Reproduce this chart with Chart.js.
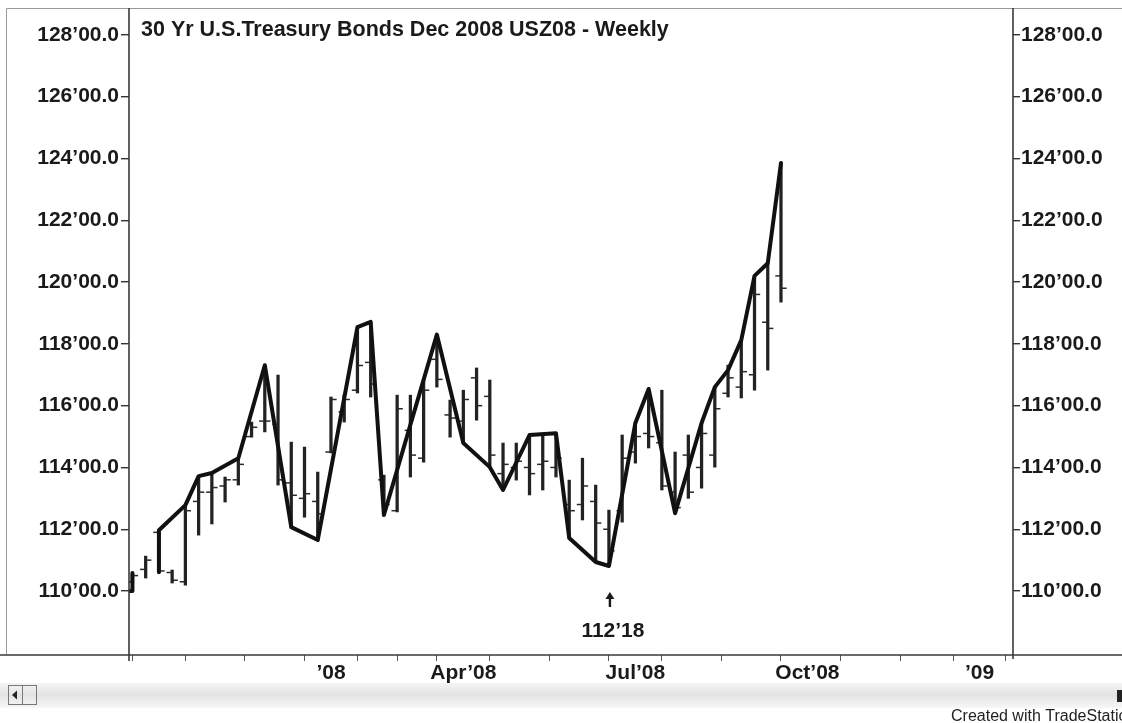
<!DOCTYPE html>
<html>
<head>
<meta charset="utf-8">
<script src="https://cdn.jsdelivr.net/npm/chart.js@4"></script>
<style>
  html, body { margin: 0; padding: 0; background: #fff; }
  #wrap { width: 1122px; height: 723px; position: relative; }
</style>
</head>
<body>
<div id="wrap"><canvas id="bondChart"></canvas></div>
<script>
// === DATA ===
const chartTitle = "30 Yr U.S.Treasury Bonds Dec 2008 USZ08 - Weekly";

const barHigh = [110.58, 111.13, 111.97, 110.68, 112.78, 113.72, 113.82, 113.69, 114.30, 115.47,
  117.31, 116.99, 114.82, 114.66, 113.85, 116.28, 116.34, 118.54, 118.71, 113.75,
  116.34, 116.34, 116.83, 118.30, 116.18, 116.50, 117.22, 116.83, 114.79, 114.79,
  115.05, 115.11, 115.11, 113.59, 114.30, 113.43, 112.62, 115.05, 115.44, 116.54,
  116.50, 114.50, 115.05, 115.44, 116.60, 117.31, 118.12, 120.20, 120.61, 123.85];
const barLow = [110.26, 110.42, 110.61, 110.26, 110.19, 111.81, 112.17, 112.88, 113.43, 114.98,
  115.15, 113.43, 112.07, 112.39, 111.65, 114.47, 115.47, 116.41, 116.28, 112.46,
  112.56, 113.69, 114.17, 116.60, 114.98, 114.79, 115.53, 114.01, 113.27, 113.59,
  113.11, 113.27, 113.69, 111.72, 112.30, 110.94, 110.81, 112.23, 114.14, 114.63,
  113.27, 112.52, 113.00, 113.33, 114.01, 116.28, 116.25, 116.50, 117.15, 119.35];
const barOpen = [110.30, 110.70, 111.90, 110.60, 110.30, 112.90, 113.20, 113.40, 113.60, 115.00,
  115.50, 115.40, 113.50, 113.00, 112.90, 114.50, 115.80, 116.50, 117.40, 113.60,
  112.60, 115.20, 114.30, 117.50, 115.70, 115.50, 116.90, 116.30, 113.80, 114.00,
  114.00, 114.10, 114.00, 112.80, 112.80, 112.90, 112.00, 112.60, 114.50, 115.10,
  114.80, 113.20, 114.40, 114.00, 114.40, 116.40, 116.60, 117.00, 118.70, 120.20];
const barClose = [110.50, 111.00, 110.65, 110.35, 112.60, 113.20, 113.35, 113.60, 114.10, 115.30,
  115.50, 113.60, 113.10, 113.15, 112.50, 116.20, 116.20, 117.30, 116.70, 112.80,
  115.90, 114.40, 116.50, 116.85, 115.60, 116.20, 116.00, 114.40, 114.10, 114.20,
  113.80, 114.20, 114.30, 112.60, 113.40, 112.20, 111.30, 114.30, 115.00, 115.00,
  113.40, 112.70, 113.20, 115.10, 115.90, 116.90, 117.10, 119.60, 118.50, 119.80];

// swing line (week index, price); null = break in the line
const swingWeek = [-0.26, 0, 0, 1, 2, 2, 4, 5, 6, 8, 10, 12, 14, 17, 18, 19, 23, 25, 27, 28,
  30, 32, 33, 35, 36, 38, 39, 41, 43, 44, 45, 46, 47, 48, 49];
const swingPrice = [110.0, 110.0, 110.58, null, 110.61, 111.97, 112.78, 113.72, 113.82, 114.30,
  117.31, 112.07, 111.65, 118.54, 118.71, 112.46, 118.30, 114.79, 114.01, 113.27,
  115.05, 115.11, 111.72, 110.94, 110.81, 115.44, 116.54, 112.52, 115.44, 116.60,
  117.15, 118.12, 120.20, 120.61, 123.85];

const priceTicks = [110, 112, 114, 116, 118, 120, 122, 124, 126, 128];
const dateTickWeeks = [2, 6, 11, 15, 19, 21, 25, 29, 34, 38, 42, 47, 51, 56, 60, 64];
const dateTickLabels = ["", "", "", "\u201908", "", "", "Apr\u201908", "", "", "Jul\u201908", "", "", "Oct\u201908", "", "", "\u201909"];

const lowMarkWeek = 36;
const lowMarkText = "112\u201918";
const creditText = "Created with TradeStation";

// === CHART ===
const ink = "#1a1a1a";
const FONT = "'Liberation Sans', Arial, sans-serif";
const weeks = barHigh.map((_, i) => i);
const tickOffset = 0.24;

const framePlugin = {
  id: "frame",
  beforeDraw(chart) {
    const c = chart.ctx;
    c.save();
    c.fillStyle = "#fff";
    c.fillRect(0, 0, chart.width, chart.height);

    // scrollbar strip (under the axis labels)
    const g = c.createLinearGradient(0, 682, 0, 708);
    g.addColorStop(0, "#f6f6f6");
    g.addColorStop(0.5, "#e3e3e3");
    g.addColorStop(1, "#f7f7f7");
    c.fillStyle = g;
    c.fillRect(0, 683, chart.width, 25);
    c.strokeStyle = "#777";
    c.lineWidth = 1;
    c.strokeRect(8.5, 685.5, 28, 19);
    c.beginPath(); c.moveTo(22.5, 686); c.lineTo(22.5, 705); c.stroke();
    c.fillStyle = "#222";
    c.beginPath(); c.moveTo(12, 695); c.lineTo(17, 690.5); c.lineTo(17, 699.5); c.closePath(); c.fill();
    c.fillRect(1117, 690, 5, 12);
    c.restore();
  },
  afterDraw(chart) {
    const c = chart.ctx;
    const a = chart.chartArea;
    const xs = chart.scales.x, ys = chart.scales.y;
    c.save();

    // outer frame
    c.strokeStyle = "#9a9a9a";
    c.lineWidth = 1;
    c.beginPath();
    c.moveTo(6.5, a.bottom); c.lineTo(6.5, a.top + 0.5); c.lineTo(chart.width, a.top + 0.5);
    c.stroke();

    // plot borders + time axis line
    c.strokeStyle = "#3a3a3a";
    c.lineWidth = 1.6;
    c.beginPath();
    c.moveTo(a.left, a.top); c.lineTo(a.left, a.bottom + 6);
    c.moveTo(a.right, a.top); c.lineTo(a.right, a.bottom + 4);
    c.moveTo(0, a.bottom); c.lineTo(chart.width, a.bottom);
    c.stroke();

    // title
    c.fillStyle = ink;
    c.font = "bold 21.5px " + FONT;
    c.textBaseline = "alphabetic";
    c.fillText(chartTitle, a.left + 12, 36);

    // low annotation
    const ax = xs.getPixelForValue(lowMarkWeek) + 1;
    const ay = ys.getPixelForValue(barLow[lowMarkWeek]) + 26;
    c.fillStyle = ink;
    c.beginPath();
    c.moveTo(ax, ay); c.lineTo(ax - 4.5, ay + 7); c.lineTo(ax + 4.5, ay + 7);
    c.closePath(); c.fill();
    c.fillRect(ax - 1.2, ay + 6, 2.4, 9);
    c.font = "bold 21px " + FONT;
    c.textAlign = "center";
    c.fillText(lowMarkText, ax + 3, ay + 45);

    // credit
    c.textAlign = "left";
    c.fillStyle = "#222";
    c.font = "16px " + FONT;
    c.fillText(creditText, 951, 721);
    c.restore();
  }
};

const zeroPad = s => { s.paddingTop = 0; s.paddingBottom = 0; s.paddingLeft = 0; s.paddingRight = 0; };

const ctx = document.getElementById("bondChart").getContext("2d");
new Chart(ctx, {
  type: "bar",
  data: {
    datasets: [
      {
        type: "line",
        label: "swing",
        data: swingWeek.map((w, i) => ({ x: w, y: swingPrice[i] })),
        borderColor: "#111",
        borderWidth: 4,
        pointRadius: 0,
        tension: 0,
        spanGaps: false,
        borderJoinStyle: "round",
        borderCapStyle: "round",
        order: 0
      },
      {
        label: "range",
        data: weeks.map(i => ({ x: i, y: [barLow[i], barHigh[i]] })),
        backgroundColor: "#222",
        barThickness: 2.6,
        order: 2
      },
      {
        type: "scatter",
        label: "open",
        data: weeks.map(i => ({ x: i - tickOffset, y: barOpen[i] })),
        pointStyle: "line",
        pointRadius: 2.5,
        borderWidth: 1.5,
        borderColor: "#2a2a2a",
        order: 1
      },
      {
        type: "scatter",
        label: "close",
        data: weeks.map(i => ({ x: i + tickOffset, y: barClose[i] })),
        pointStyle: "line",
        pointRadius: 2.5,
        borderWidth: 1.5,
        borderColor: "#2a2a2a",
        order: 1
      }
    ]
  },
  options: {
    responsive: true,
    maintainAspectRatio: false,
    animation: false,
    layout: { padding: { top: 8, left: 0, right: 0, bottom: 0 } },
    plugins: { legend: { display: false }, tooltip: { enabled: false } },
    scales: {
      x: {
        type: "linear",
        position: "bottom",
        min: -0.26,
        max: 66.53,
        offset: false,
        afterBuildTicks: s => { s.ticks = dateTickWeeks.map(v => ({ value: v })); },
        afterFit: s => { s.height = 68; zeroPad(s); },
        grid: { drawOnChartArea: false, tickLength: 6, color: "#555", lineWidth: 1 },
        border: { display: false },
        ticks: {
          autoSkip: false,
          maxRotation: 0,
          padding: 0,
          color: ink,
          font: { family: FONT, size: 21, weight: "bold" },
          callback: v => dateTickLabels[dateTickWeeks.indexOf(v)] || ""
        }
      },
      y: {
        position: "left",
        min: 107.93,
        max: 128.87,
        afterBuildTicks: s => { s.ticks = priceTicks.map(v => ({ value: v })); },
        afterFit: s => { s.width = 129; zeroPad(s); },
        grid: { drawOnChartArea: false, tickLength: 8, color: "#333", lineWidth: 1.4 },
        border: { display: false },
        ticks: {
          padding: 2,
          color: ink,
          font: { family: FONT, size: 21, weight: "bold" },
          callback: v => v + "\u201900.0"
        }
      },
      y2: {
        position: "right",
        min: 107.93,
        max: 128.87,
        afterBuildTicks: s => { s.ticks = priceTicks.map(v => ({ value: v })); },
        afterFit: s => { s.width = 109; zeroPad(s); },
        grid: { drawOnChartArea: false, tickLength: 7, color: "#333", lineWidth: 1.4 },
        border: { display: false },
        ticks: {
          padding: 1,
          color: ink,
          font: { family: FONT, size: 21, weight: "bold" },
          callback: v => v + "\u201900.0"
        }
      }
    }
  },
  plugins: [framePlugin]
});
</script>
</body>
</html>
